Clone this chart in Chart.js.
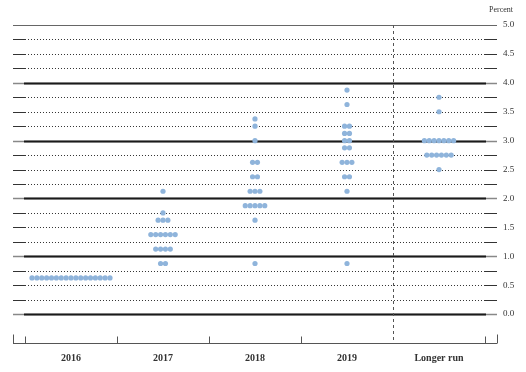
<!DOCTYPE html>
<html>
<head>
<meta charset="utf-8">
<script src="https://cdn.jsdelivr.net/npm/chart.js@4.4.0/dist/chart.umd.min.js"></script>
<style>
  html, body { margin: 0; padding: 0; background: #fff; }
  #wrap { width: 526px; height: 372px; }
</style>
</head>
<body>
<div id="wrap"><canvas id="dot_plot"></canvas></div>
<script>
const years = ["2016", "2017", "2018", "2019", "Longer run"];

// rate levels (percent) and how many participants sit at each level
const levels2016 = [0.625];
const counts2016 = [17];
const levels2017 = [2.125, 1.75, 1.625, 1.375, 1.125, 0.875];
const counts2017 = [1, 1, 3, 6, 4, 2];
const levels2018 = [3.375, 3.25, 3.0, 2.625, 2.375, 2.125, 1.875, 1.625, 0.875];
const counts2018 = [1, 1, 1, 2, 2, 3, 5, 1, 1];
const levels2019 = [3.875, 3.625, 3.25, 3.125, 3.0, 2.875, 2.625, 2.375, 2.125, 0.875];
const counts2019 = [1, 1, 2, 2, 2, 2, 3, 2, 1, 1];
const levelsLonger = [3.75, 3.5, 3.0, 2.75, 2.5];
const countsLonger = [1, 1, 7, 6, 1];

const dotStep = 0.053; // side by side spacing of dots, in category units

function buildPoints(col, levels, counts) {
  let pts = [];
  levels.forEach((lv, k) => {
    let n = counts[k];
    for (let i = 0; i < n; i++) {
      pts.push({ x: col + 0.5 + (i - (n - 1) / 2) * dotStep, y: lv });
    }
  });
  return pts;
}

let points = []
  .concat(buildPoints(0, levels2016, counts2016))
  .concat(buildPoints(1, levels2017, counts2017))
  .concat(buildPoints(2, levels2018, counts2018))
  .concat(buildPoints(3, levels2019, counts2019))
  .concat(buildPoints(4, levelsLonger, countsLonger));

// grid lines, dashed divider, bottom axis with ticks and the "Percent" note
const gridPlugin = {
  id: "dotGrid",
  beforeDatasetsDraw(chart) {
    const { ctx, chartArea, scales } = chart;
    const { left, right, top, bottom } = chartArea;
    const x = scales.x, y = scales.y;
    const x0 = x.getPixelForValue(0);
    const x5 = x.getPixelForValue(5);
    ctx.save();

    for (let k = 0; k <= 20; k++) {
      let v = k / 4;
      let yy = Math.round(y.getPixelForValue(v)) + 0.5;
      ctx.setLineDash([]);
      if (v === 5) {
        ctx.strokeStyle = "#666";
        ctx.lineWidth = 1.2;
        ctx.beginPath();
        ctx.moveTo(left, yy);
        ctx.lineTo(right, yy);
        ctx.stroke();
      } else if (k % 4 === 0) {
        ctx.strokeStyle = "#888";
        ctx.lineWidth = 1.5;
        ctx.beginPath();
        ctx.moveTo(left, yy);
        ctx.lineTo(right, yy);
        ctx.stroke();
        ctx.strokeStyle = "#1a1a1a";
        ctx.lineWidth = 2;
        ctx.beginPath();
        ctx.moveTo(x0 - 1, yy);
        ctx.lineTo(x5 + 1, yy);
        ctx.stroke();
      } else {
        ctx.strokeStyle = "#333";
        ctx.lineWidth = 1;
        ctx.beginPath();
        ctx.moveTo(left, yy);
        ctx.lineTo(x0, yy);
        ctx.moveTo(x5, yy);
        ctx.lineTo(right, yy);
        ctx.stroke();
        ctx.setLineDash([1, 2]);
        ctx.beginPath();
        ctx.moveTo(x0, yy);
        ctx.lineTo(x5, yy);
        ctx.stroke();
      }
    }

    // dashed divider before "Longer run"
    let xv = Math.round(x.getPixelForValue(4)) + 0.5;
    ctx.setLineDash([3, 3]);
    ctx.strokeStyle = "#555";
    ctx.lineWidth = 1;
    ctx.beginPath();
    ctx.moveTo(xv, top);
    ctx.lineTo(xv, bottom);
    ctx.stroke();

    // bottom axis
    ctx.setLineDash([]);
    ctx.strokeStyle = "#555";
    let yb = Math.round(bottom) + 0.5;
    ctx.beginPath();
    ctx.moveTo(left, yb);
    ctx.lineTo(right, yb);
    [left, right].forEach((px) => {
      let p = Math.round(px) + 0.5;
      ctx.moveTo(p, yb);
      ctx.lineTo(p, yb - 9);
    });
    [0, 1, 2, 3, 5].forEach((v) => {
      let p = Math.round(x.getPixelForValue(v)) + 0.5;
      ctx.moveTo(p, yb);
      ctx.lineTo(p, yb - 7);
    });
    ctx.stroke();

    ctx.fillStyle = "#333";
    ctx.font = "8px 'Liberation Serif'";
    ctx.textAlign = "right";
    ctx.textBaseline = "middle";
    ctx.fillText("Percent", chart.width - 13, 10);
    ctx.restore();
  },
};

let ctx = document.getElementById("dot_plot").getContext("2d");

let myChartDots = new Chart(ctx, {
  type: "scatter",
  data: {
    datasets: [
      {
        data: points,
        backgroundColor: "#8fb4db",
        borderWidth: 0,
        pointRadius: 2.6,
        pointHoverRadius: 2.6,
      },
    ],
  },
  options: {
    responsive: true,
    maintainAspectRatio: false,
    animation: false,
    layout: { padding: { top: 25, left: 13, right: 6, bottom: 0 } },
    plugins: { legend: { display: false }, tooltip: { enabled: false } },
    scales: {
      x: {
        type: "linear",
        min: -0.1304,
        max: 5.1304,
        afterBuildTicks: (scale) => {
          scale.ticks = years.map((_, i) => ({ value: i + 0.5 }));
        },
        afterFit: (scale) => {
          scale.height = 29;
        },
        ticks: {
          callback: (value) => years[Math.floor(value)],
          font: { family: "'Liberation Serif'", size: 10, weight: "bold" },
          color: "#333",
          padding: 9,
          maxRotation: 0,
          autoSkip: false,
        },
        grid: { display: false, drawTicks: false },
        border: { display: false },
      },
      y: {
        position: "right",
        min: -0.5,
        max: 5,
        afterFit: (scale) => {
          scale.width = 23;
        },
        ticks: {
          stepSize: 0.5,
          callback: (value) => (value < 0 ? null : value.toFixed(1)),
          font: { family: "'Liberation Serif'", size: 9 },
          color: "#333",
          padding: 6,
        },
        grid: { display: false, drawTicks: false },
        border: { display: false },
      },
    },
  },
  plugins: [gridPlugin],
});
</script>
</body>
</html>
